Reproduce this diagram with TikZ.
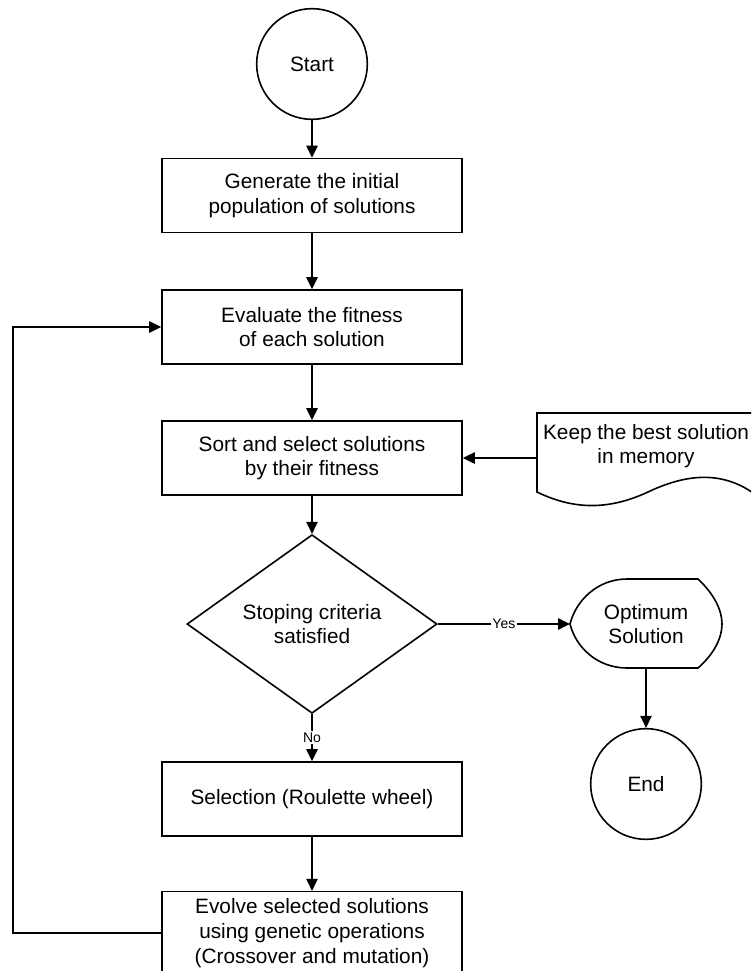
\documentclass[tikz,border=0pt]{standalone}
\usepackage{fontspec}
\setmainfont{Liberation Sans}
\usetikzlibrary{shapes.geometric,arrows.meta}
\begin{document}
\begin{tikzpicture}[x=0.75pt,y=-0.75pt,
  every node/.style={font=\fontsize{15.6}{18.5}\selectfont, align=center},
  line/.style={line width=1.2pt, line join=miter},
  proc/.style={draw, line width=1.2pt, minimum width=225pt, minimum height=55.5pt, inner sep=0pt},
  term/.style={draw, circle, line width=1.2pt, minimum size=83pt, inner sep=0pt},
  dec/.style={draw, diamond, line width=1.2pt, minimum width=187.5pt, minimum height=112.5pt, inner sep=0pt},
  arr/.style={line width=1.2pt, -{Triangle[length=9pt,width=8.5pt]}},
  lbl/.style={font=\fontsize{10.5}{12}\selectfont, fill=white, inner sep=1pt}]
\useasboundingbox (0,0) rectangle (751,971);
\clip (0,0) rectangle (751,971);
% main column
\node[term] (start) at (312,64) {Start};
\node[proc] (gen) at (312,195.5) {Generate the initial\\population of solutions};
\node[proc] (eval) at (312,327) {Evaluate the fitness\\of each solution};
\node[proc] (sort) at (312,458) {Sort and select solutions\\by their fitness};
\node[dec] (crit) at (312,624) {Stoping criteria\\satisfied};
\node[proc] (sel) at (312,799) {Selection (Roulette wheel)};
\node[proc, minimum height=62pt] (evo) at (312,933) {Evolve selected solutions\\using genetic operations\\(Crossover and mutation)};
% document shape
\draw[line] (537,492) -- (537,413) -- (756,413) -- (756,495)
  .. controls (725,472) and (690,472) .. (648,492)
  .. controls (605,512) and (570,508) .. (537,492) -- cycle;
\node[minimum width=164pt, minimum height=59pt, inner sep=0pt] (doc) at (646.5,452.5) {};
\node (keep) at (646,446) {Keep the best solution\\in memory};
% display shape (optimum)
\draw[line] (570,624) .. controls (576,600) and (598,579) .. (627,579) -- (698,579)
  .. controls (714,594) and (722,610) .. (722,624)
  .. controls (722,638) and (714,654) .. (698,668) -- (627,668)
  .. controls (598,668) and (576,648) .. (570,624) -- cycle;
\node (opt) at (646,624) {Optimum\\Solution};
\coordinate (optw) at (570,624);
\coordinate (opts) at (646,668);
\node[term] (end) at (646,784) {End};
\coordinate (loop) at (13,933);
% connectors
\draw[arr] (start) -- (gen);
\draw[arr] (gen) -- (eval);
\draw[arr] (eval) -- (sort);
\draw[arr] (sort) -- (crit);
\draw[arr] (sort.east -| doc.west) -- (sort.east);
\draw[arr] (crit.east) -- node[lbl]{Yes} (optw);
\draw[arr] (crit.south) -- node[lbl]{No} (sel.north);
\draw[arr] (opts) -- (end);
\draw[arr] (sel) -- (evo);
\draw[arr] (evo.west) -- (loop) |- (eval.west);
\end{tikzpicture}
\end{document}
